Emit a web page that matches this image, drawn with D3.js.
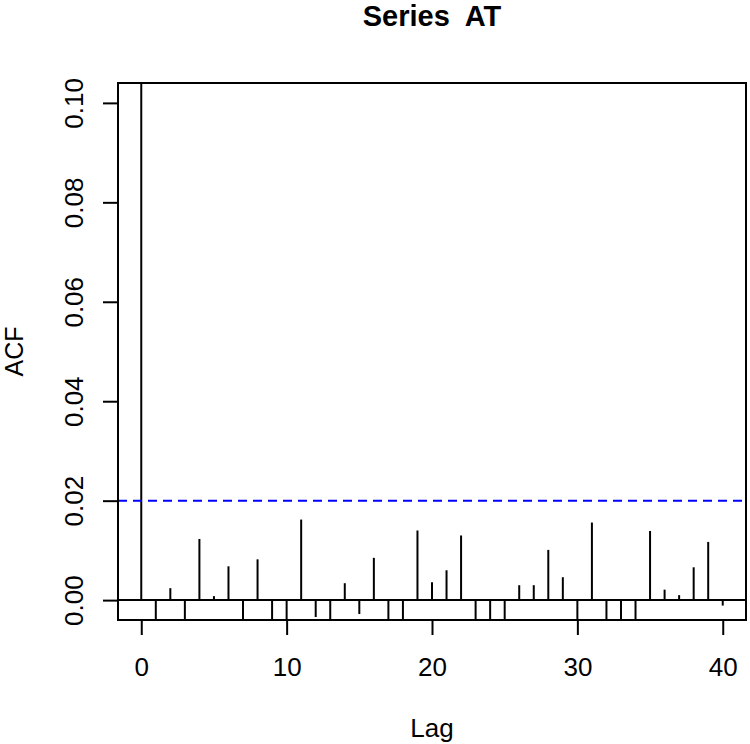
<!DOCTYPE html>
<html>
<head>
<meta charset="utf-8">
<script src="https://cdn.jsdelivr.net/npm/d3@7"></script>
<style>
  body { margin: 0; background: #fff; }
  text { font-family: "Liberation Sans", Arial, sans-serif; }
</style>
</head>
<body>
<svg width="750" height="744"></svg>
<script>
// acf values by lag (lag 0 = 1, off the top of the plot)
var lags = [0,1,2,3,4,5,6,7,8,9,10,11,12,13,14,15,16,17,18,19,20,
            21,22,23,24,25,26,27,28,29,30,31,32,33,34,35,36,37,38,39,40];
var acfVals = [1.0, -0.006, 0.0024, -0.007, 0.0123, 0.0008, 0.0068, -0.006, 0.0082, -0.005, -0.008,
               0.0162, -0.0034, -0.006, 0.0034, -0.0028, 0.0085, -0.006, -0.007, 0.0140, 0.0036,
               0.0060, 0.0130, -0.005, -0.006, -0.007, 0.0030, 0.0030, 0.0101, 0.0046, -0.008,
               0.0156, -0.006, -0.005, -0.007, 0.0139, 0.0021, 0.0010, 0.0066, 0.0117, -0.0011];
var ciLevel = 0.02;
var xTicks = [0, 10, 20, 30, 40];
var yTicks = [0, 0.02, 0.04, 0.06, 0.08, 0.10];

var boxL = 118, boxR = 746, boxT = 83, boxB = 620;

var svg = d3.select('svg');

var x = d3.scaleLinear().domain([-1.6, 41.6]).range([boxL, boxR]);
var y = d3.scaleLinear().domain([-0.004, 0.104]).range([boxB, boxT]);

svg.append('clipPath').attr('id', 'box')
  .append('rect')
  .attr('x', boxL).attr('y', boxT)
  .attr('width', boxR - boxL).attr('height', boxB - boxT);

var plot = svg.append('g').attr('clip-path', 'url(#box)');

// zero line
plot.append('line')
  .attr('x1', boxL).attr('x2', boxR)
  .attr('y1', y(0)).attr('y2', y(0))
  .attr('stroke', '#000').attr('stroke-width', 2);

// acf spikes
plot.selectAll('.spike')
  .data(lags)
  .enter()
  .append('line')
  .attr('class', 'spike')
  .attr('x1', function(d){ return x(d); })
  .attr('x2', function(d){ return x(d); })
  .attr('y1', y(0))
  .attr('y2', function(d, i){ return y(acfVals[i]); })
  .attr('stroke', '#000')
  .attr('stroke-width', 2);

// confidence line
plot.append('line')
  .attr('x1', boxL).attr('x2', boxR)
  .attr('y1', y(ciLevel)).attr('y2', y(ciLevel))
  .attr('stroke', '#0000ff')
  .attr('stroke-width', 2)
  .attr('stroke-dasharray', '9,6');

// axes
var xAxis = svg.append('g')
  .attr('transform', 'translate(0,' + boxB + ')')
  .call(d3.axisBottom(x).tickValues(xTicks).tickSize(15).tickSizeOuter(0).tickFormat(d3.format('d')));
xAxis.selectAll('text')
  .attr('y', 56).attr('dy', 0)
  .attr('font-size', 26).attr('fill', '#000');

var yAxis = svg.append('g')
  .attr('transform', 'translate(' + boxL + ',0)')
  .call(d3.axisLeft(y).tickValues(yTicks).tickSize(15).tickSizeOuter(0).tickFormat(d3.format('.2f')));
yAxis.selectAll('text')
  .attr('x', 0).attr('dy', 0)
  .attr('text-anchor', 'middle')
  .attr('transform', 'translate(-35,0) rotate(-90)')
  .attr('font-size', 26).attr('fill', '#000');

svg.selectAll('.domain').remove();
svg.selectAll('.tick line').attr('stroke', '#000').attr('stroke-width', 2);

// box
svg.append('rect')
  .attr('x', boxL).attr('y', boxT)
  .attr('width', boxR - boxL).attr('height', boxB - boxT)
  .attr('fill', 'none').attr('stroke', '#000').attr('stroke-width', 2);

// titles
svg.append('text')
  .attr('x', (boxL + boxR) / 2)
  .attr('y', 26)
  .attr('text-anchor', 'middle')
  .attr('font-size', 29)
  .attr('font-weight', 'bold')
  .style('white-space', 'pre')
  .text('Series  AT');

svg.append('text')
  .attr('x', (boxL + boxR) / 2)
  .attr('y', 737)
  .attr('text-anchor', 'middle')
  .attr('font-size', 26)
  .text('Lag');

svg.append('text')
  .attr('transform', 'translate(23,' + ((boxT + boxB) / 2) + ') rotate(-90)')
  .attr('text-anchor', 'middle')
  .attr('font-size', 25)
  .text('ACF');
</script>
</body>
</html>
